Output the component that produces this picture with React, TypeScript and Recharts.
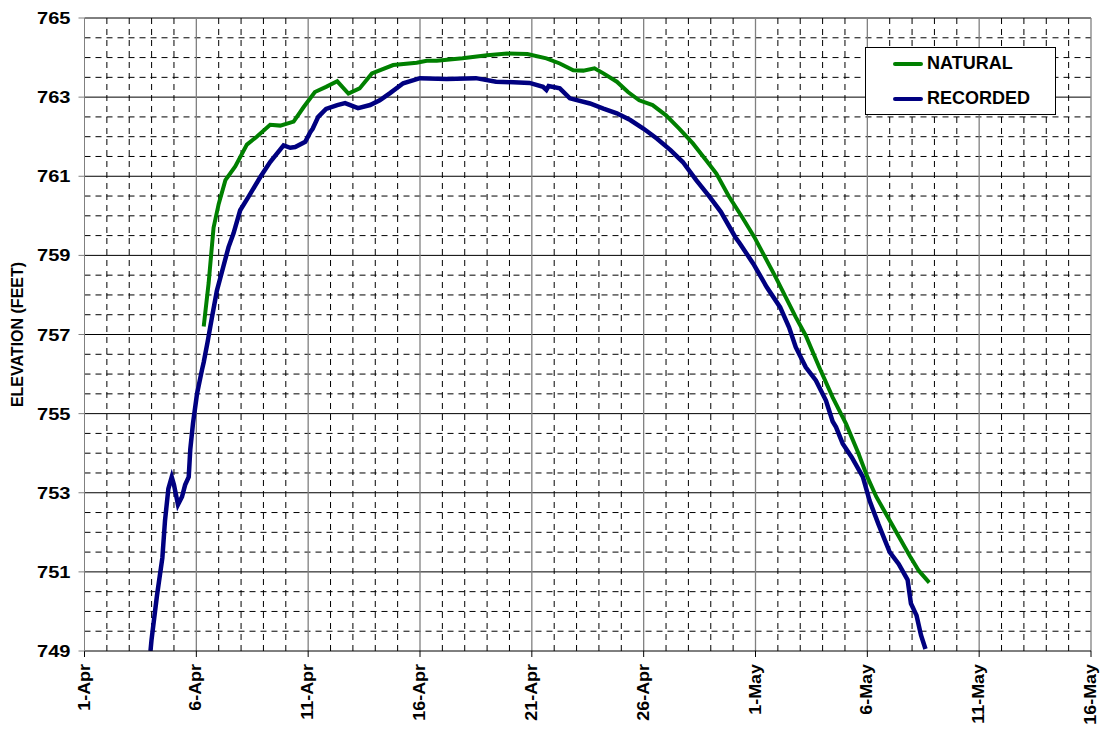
import React from 'react';
import { LineChart, Line, XAxis, YAxis, ReferenceLine, Legend, Label } from 'recharts';

// days after 1-Apr
const naturalDays = [5.33, 5.55, 5.77, 6.0, 6.3, 6.74, 7.26, 7.7, 8.3, 8.75, 9.35, 9.8, 10.3, 10.8, 11.3, 11.8, 12.3, 12.85, 13.8, 14.85, 15.3, 15.75, 16.9, 18.0, 18.9, 19.8, 20.65, 21.25, 21.85, 22.3, 22.8, 23.2, 23.8, 24.3, 24.8, 25.4, 26.0, 26.6, 27.2, 27.8, 28.25, 28.8, 29.4, 29.95, 30.9, 31.8, 32.25, 32.85, 33.45, 34.05, 34.6, 35.0, 35.4, 35.9, 36.4, 36.9, 37.3, 37.77];
const naturalElev = [757.2, 758.3, 759.7, 760.3, 760.9, 761.25, 761.8, 762.0, 762.3, 762.28, 762.38, 762.75, 763.13, 763.26, 763.4, 763.09, 763.22, 763.6, 763.81, 763.87, 763.92, 763.92, 763.98, 764.06, 764.1, 764.09, 763.98, 763.85, 763.68, 763.67, 763.73, 763.6, 763.39, 763.13, 762.92, 762.8, 762.54, 762.2, 761.83, 761.4, 761.07, 760.5, 759.97, 759.46, 758.45, 757.44, 756.97, 756.17, 755.41, 754.74, 754.0, 753.4, 752.9, 752.4, 751.9, 751.4, 751.03, 750.73];

const recordedDays = [2.95, 3.0, 3.24, 3.48, 3.6, 3.75, 3.9, 4.0, 4.18, 4.36, 4.5, 4.66, 4.73, 4.85, 5.03, 5.25, 5.33, 5.5, 5.7, 5.92, 6.2, 6.44, 6.66, 6.96, 7.33, 7.86, 8.3, 8.9, 9.2, 9.42, 9.87, 10.1, 10.2, 10.45, 10.8, 11.3, 11.65, 12.23, 12.77, 13.2, 13.66, 14.25, 15.0, 16.2, 17.5, 18.4, 19.9, 20.5, 20.65, 20.75, 21.25, 21.7, 22.6, 23.2, 23.8, 24.4, 25.0, 25.6, 26.2, 26.75, 27.35, 27.95, 28.45, 29.1, 29.3, 29.9, 30.5, 31.1, 31.5, 31.8, 32.25, 32.7, 33.15, 33.45, 33.6, 33.9, 34.3, 34.8, 35.1, 35.5, 36.0, 36.4, 36.8, 36.95, 37.2, 37.4, 37.6];
const recordedElev = [749.0, 749.3, 750.4, 751.35, 752.3, 753.1, 753.4, 753.2, 752.7, 752.9, 753.2, 753.4, 754.1, 754.75, 755.5, 756.1, 756.3, 756.8, 757.44, 758.11, 758.7, 759.21, 759.55, 760.14, 760.48, 760.98, 761.36, 761.78, 761.72, 761.74, 761.87, 762.12, 762.2, 762.5, 762.7, 762.8, 762.85, 762.72, 762.8, 762.92, 763.1, 763.35, 763.48, 763.46, 763.48, 763.39, 763.36, 763.26, 763.18, 763.28, 763.22, 762.97, 762.84, 762.71, 762.59, 762.42, 762.2, 761.95, 761.66, 761.36, 760.9, 760.48, 760.1, 759.46, 759.3, 758.79, 758.2, 757.69, 757.18, 756.68, 756.17, 755.84, 755.33, 754.8, 754.66, 754.24, 753.9, 753.4, 752.8, 752.2, 751.5, 751.2, 750.8, 750.2, 749.9, 749.4, 749.05];

const xTickDays = [0, 5, 10, 15, 20, 25, 30, 35, 40, 45];
const xTickLabels = ['1-Apr', '6-Apr', '11-Apr', '16-Apr', '21-Apr', '26-Apr', '1-May', '6-May', '11-May', '16-May'];
const yTicks = [749, 751, 753, 755, 757, 759, 761, 763, 765];
const yMinor = [749.5, 750, 750.5, 751.5, 752, 752.5, 753.5, 754, 754.5, 755.5, 756, 756.5, 757.5, 758, 758.5, 759.5, 760, 760.5, 761.5, 762, 762.5, 763.5, 764, 764.5];
const xMinor = [1, 2, 3, 4, 6, 7, 8, 9, 11, 12, 13, 14, 16, 17, 18, 19, 21, 22, 23, 24, 26, 27, 28, 29, 31, 32, 33, 34, 36, 37, 38, 39, 41, 42, 43, 44];
const xMajor = [5, 10, 15, 20, 25, 30, 35, 40, 45];
const yMajor = [751, 753, 755, 757, 759, 761, 763, 765];

const naturalData = naturalDays.map((d, i) => ({ day: d, v: naturalElev[i] }));
const recordedData = recordedDays.map((d, i) => ({ day: d, v: recordedElev[i] }));

const FONT = '"Liberation Sans", Arial, sans-serif';

const YTick = (props: any) => {
  const { x, y, payload } = props;
  return (
    <text transform={`translate(${x},${y}) scale(1.18,1)`} x={0} y={0} dy={6} textAnchor="end"
      fontFamily={FONT} fontWeight="bold" fontSize={17} fill="#000">
      {payload.value}
    </text>
  );
};

const XTick = (props: any) => {
  const { x, y, payload } = props;
  const idx = xTickDays.indexOf(payload.value);
  return (
    <text transform={`translate(${x},${y + 5}) rotate(-90) scale(1.12,1)`} x={0} y={0} dy={5} textAnchor="end"
      fontFamily={FONT} fontWeight="bold" fontSize={16} fill="#000">
      {idx >= 0 ? xTickLabels[idx] : ''}
    </text>
  );
};

const LegendBox = () => (
  <div style={{ width: 191, height: 68, border: '1px solid #000', background: '#fff', position: 'relative', boxSizing: 'border-box', fontFamily: FONT, fontWeight: 'bold', fontSize: 18 }}>
    <div style={{ position: 'absolute', left: 27, top: 14, width: 30, height: 4, background: '#008000', borderRadius: 2 }} />
    <div style={{ position: 'absolute', left: 61, top: 5, lineHeight: '20px' }}>NATURAL</div>
    <div style={{ position: 'absolute', left: 27, top: 49, width: 30, height: 4, background: '#000080', borderRadius: 2 }} />
    <div style={{ position: 'absolute', left: 61, top: 40, lineHeight: '20px' }}>RECORDED</div>
  </div>
);

export default function App() {
  return (
    <div style={{ position: 'absolute', left: 0, top: 0, background: '#fff' }}>
      <LineChart width={1101} height={729} margin={{ top: 18, right: 10, left: 0, bottom: 0 }}>
        <XAxis type="number" dataKey="day" domain={[0, 45]} ticks={xTickDays} interval={0}
          height={78} tickSize={6} tick={<XTick />} axisLine={{ stroke: '#000' }} tickLine={{ stroke: '#000' }} allowDataOverflow />
        <YAxis type="number" domain={[749, 765]} ticks={yTicks} interval={0} width={84.5}
          tickSize={6} tickMargin={8} tick={<YTick />} axisLine={{ stroke: '#808080' }} tickLine={{ stroke: '#808080' }} allowDataOverflow>
          <Label content={(p: any) => {
            const vb = p.viewBox || { x: 0, y: 18, width: 84, height: 632 };
            const cx = vb.x + 23;
            const cy = vb.y + vb.height / 2;
            return (
              <text transform={`translate(${cx},${cy}) rotate(-90)`} x={0} y={0} textAnchor="middle"
                fontFamily={FONT} fontWeight="bold" fontSize={16} fill="#000">ELEVATION (FEET)</text>
            );
          }} />
        </YAxis>
        {yMinor.map((v) => (
          <ReferenceLine key={'ym' + v} y={v} stroke="#000" strokeWidth={1} strokeDasharray="6 5" ifOverflow="visible" />
        ))}
        {xMinor.map((v) => (
          <ReferenceLine key={'xm' + v} x={v} stroke="#000" strokeWidth={1} strokeDasharray="6 5" ifOverflow="visible" />
        ))}
        {yMajor.map((v) => (
          <ReferenceLine key={'yM' + v} y={v} stroke="#000" strokeWidth={1} ifOverflow="visible" />
        ))}
        {xMajor.map((v) => (
          <ReferenceLine key={'xM' + v} x={v} stroke="#808080" strokeWidth={1.3} ifOverflow="visible" />
        ))}
        <Line data={recordedData} dataKey="v" type="linear" stroke="#000080" strokeWidth={4.5} dot={false} isAnimationActive={false} name="RECORDED" />
        <Line data={naturalData} dataKey="v" type="linear" stroke="#008000" strokeWidth={4} dot={false} isAnimationActive={false} name="NATURAL" />
        <Legend layout="horizontal" verticalAlign="middle" align="center" wrapperStyle={{ position: 'absolute', left: 865, top: 47, width: 191, height: 68 }} content={<LegendBox />} />
      </LineChart>
    </div>
  );
}
